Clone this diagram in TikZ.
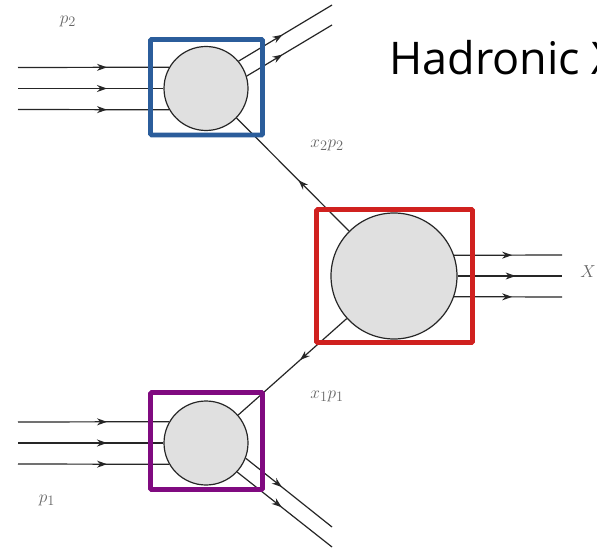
\documentclass[tikz,border=0pt]{standalone}
\usepackage{fontspec}
\newfontfamily\titlefont{Open Sans}
\usetikzlibrary{decorations.markings,arrows.meta}
\definecolor{fblue}{HTML}{2B5D9B}
\definecolor{fred}{HTML}{D0211F}
\definecolor{fpurple}{HTML}{800A80}
\begin{document}
\begin{tikzpicture}[x=1pt,y=-1pt,
  blob/.style={circle,draw=black!85,line width=1.2pt,fill=black!12,inner sep=0pt,minimum size=#1},
  ln/.style={draw=black!85,line width=1.2pt},
  arr/.style={ln,postaction={decorate},decoration={markings,mark=at position #1 with {\arrow{Stealth[length=10pt,width=7pt]}}}},
  frame/.style={line width=4.6pt,rounded corners=1pt},
  lab/.style={text=black!60,font=\fontsize{19}{22}\selectfont}
]
\clip (0,0) rectangle (597,548);
\fill[white] (0,0) rectangle (597,548);

% blobs
\node[blob=84pt] (top) at (206,88.5) {};
\node[blob=126pt] (mid) at (394,276) {};
\node[blob=84pt] (bot) at (206,443) {};

% free ends
\coordinate (ta1) at (18,67.5);
\coordinate (ta2) at (18,88.5);
\coordinate (ta3) at (18,109.5);
\coordinate (to1) at (332,5);
\coordinate (to2) at (332,25);
\coordinate (ba1) at (18,422);
\coordinate (ba2) at (18,443);
\coordinate (ba3) at (18,464);
\coordinate (bo1) at (332,527);
\coordinate (bo2) at (332,547);
\coordinate (mo1) at (562,255);
\coordinate (mo2) at (562,276);
\coordinate (mo3) at (562,297);

% connectors
\draw[arr=89pt] (ta1) -- (top.150);
\draw[arr=89pt] (ta2) -- (top.180);
\draw[arr=89pt] (ta3) -- (top.210);
\draw[arr=0.47] (top.40) -- (to1);
\draw[arr=0.42] (top.17) -- (to2);

\draw[arr=89pt] (ba1) -- (bot.150);
\draw[arr=89pt] (ba2) -- (bot.180);
\draw[arr=89pt] (ba3) -- (bot.210);
\draw[arr=0.42] (bot.-21) -- (bo1);
\draw[arr=0.47] (bot.-43) -- (bo2);

\draw[arr=0.45] (mid.135) -- (top.-44);
\draw[arr=0.43] (mid.222) -- (bot.41);

\draw[arr=58pt] (mid.19.5) -- (mo1);
\draw[arr=58pt] (mid.0) -- (mo2);
\draw[arr=58pt] (mid.-19.5) -- (mo3);

% frames
\draw[frame,fblue] (150.5,39.5) rectangle (262.5,135);
\draw[frame,fred] (316.5,209.5) rectangle (472.5,342.5);
\draw[frame,fpurple] (150.5,392.5) rectangle (262.5,489.5);

% labels
\node[lab] (lp2) at (68,21) {$p_2$};
\node[lab] (lx2) at (327,145) {$x_2p_2$};
\node[lab] (lX) at (588,272) {$X$};
\node[lab] (lx1) at (327,396) {$x_1p_1$};
\node[lab] (lp1) at (47,500) {$p_1$};

\node[anchor=base west,inner sep=0pt,font=\titlefont\fontsize{45}{54}\selectfont] (title) at (389,75) {Hadronic X};
\end{tikzpicture}
\end{document}
